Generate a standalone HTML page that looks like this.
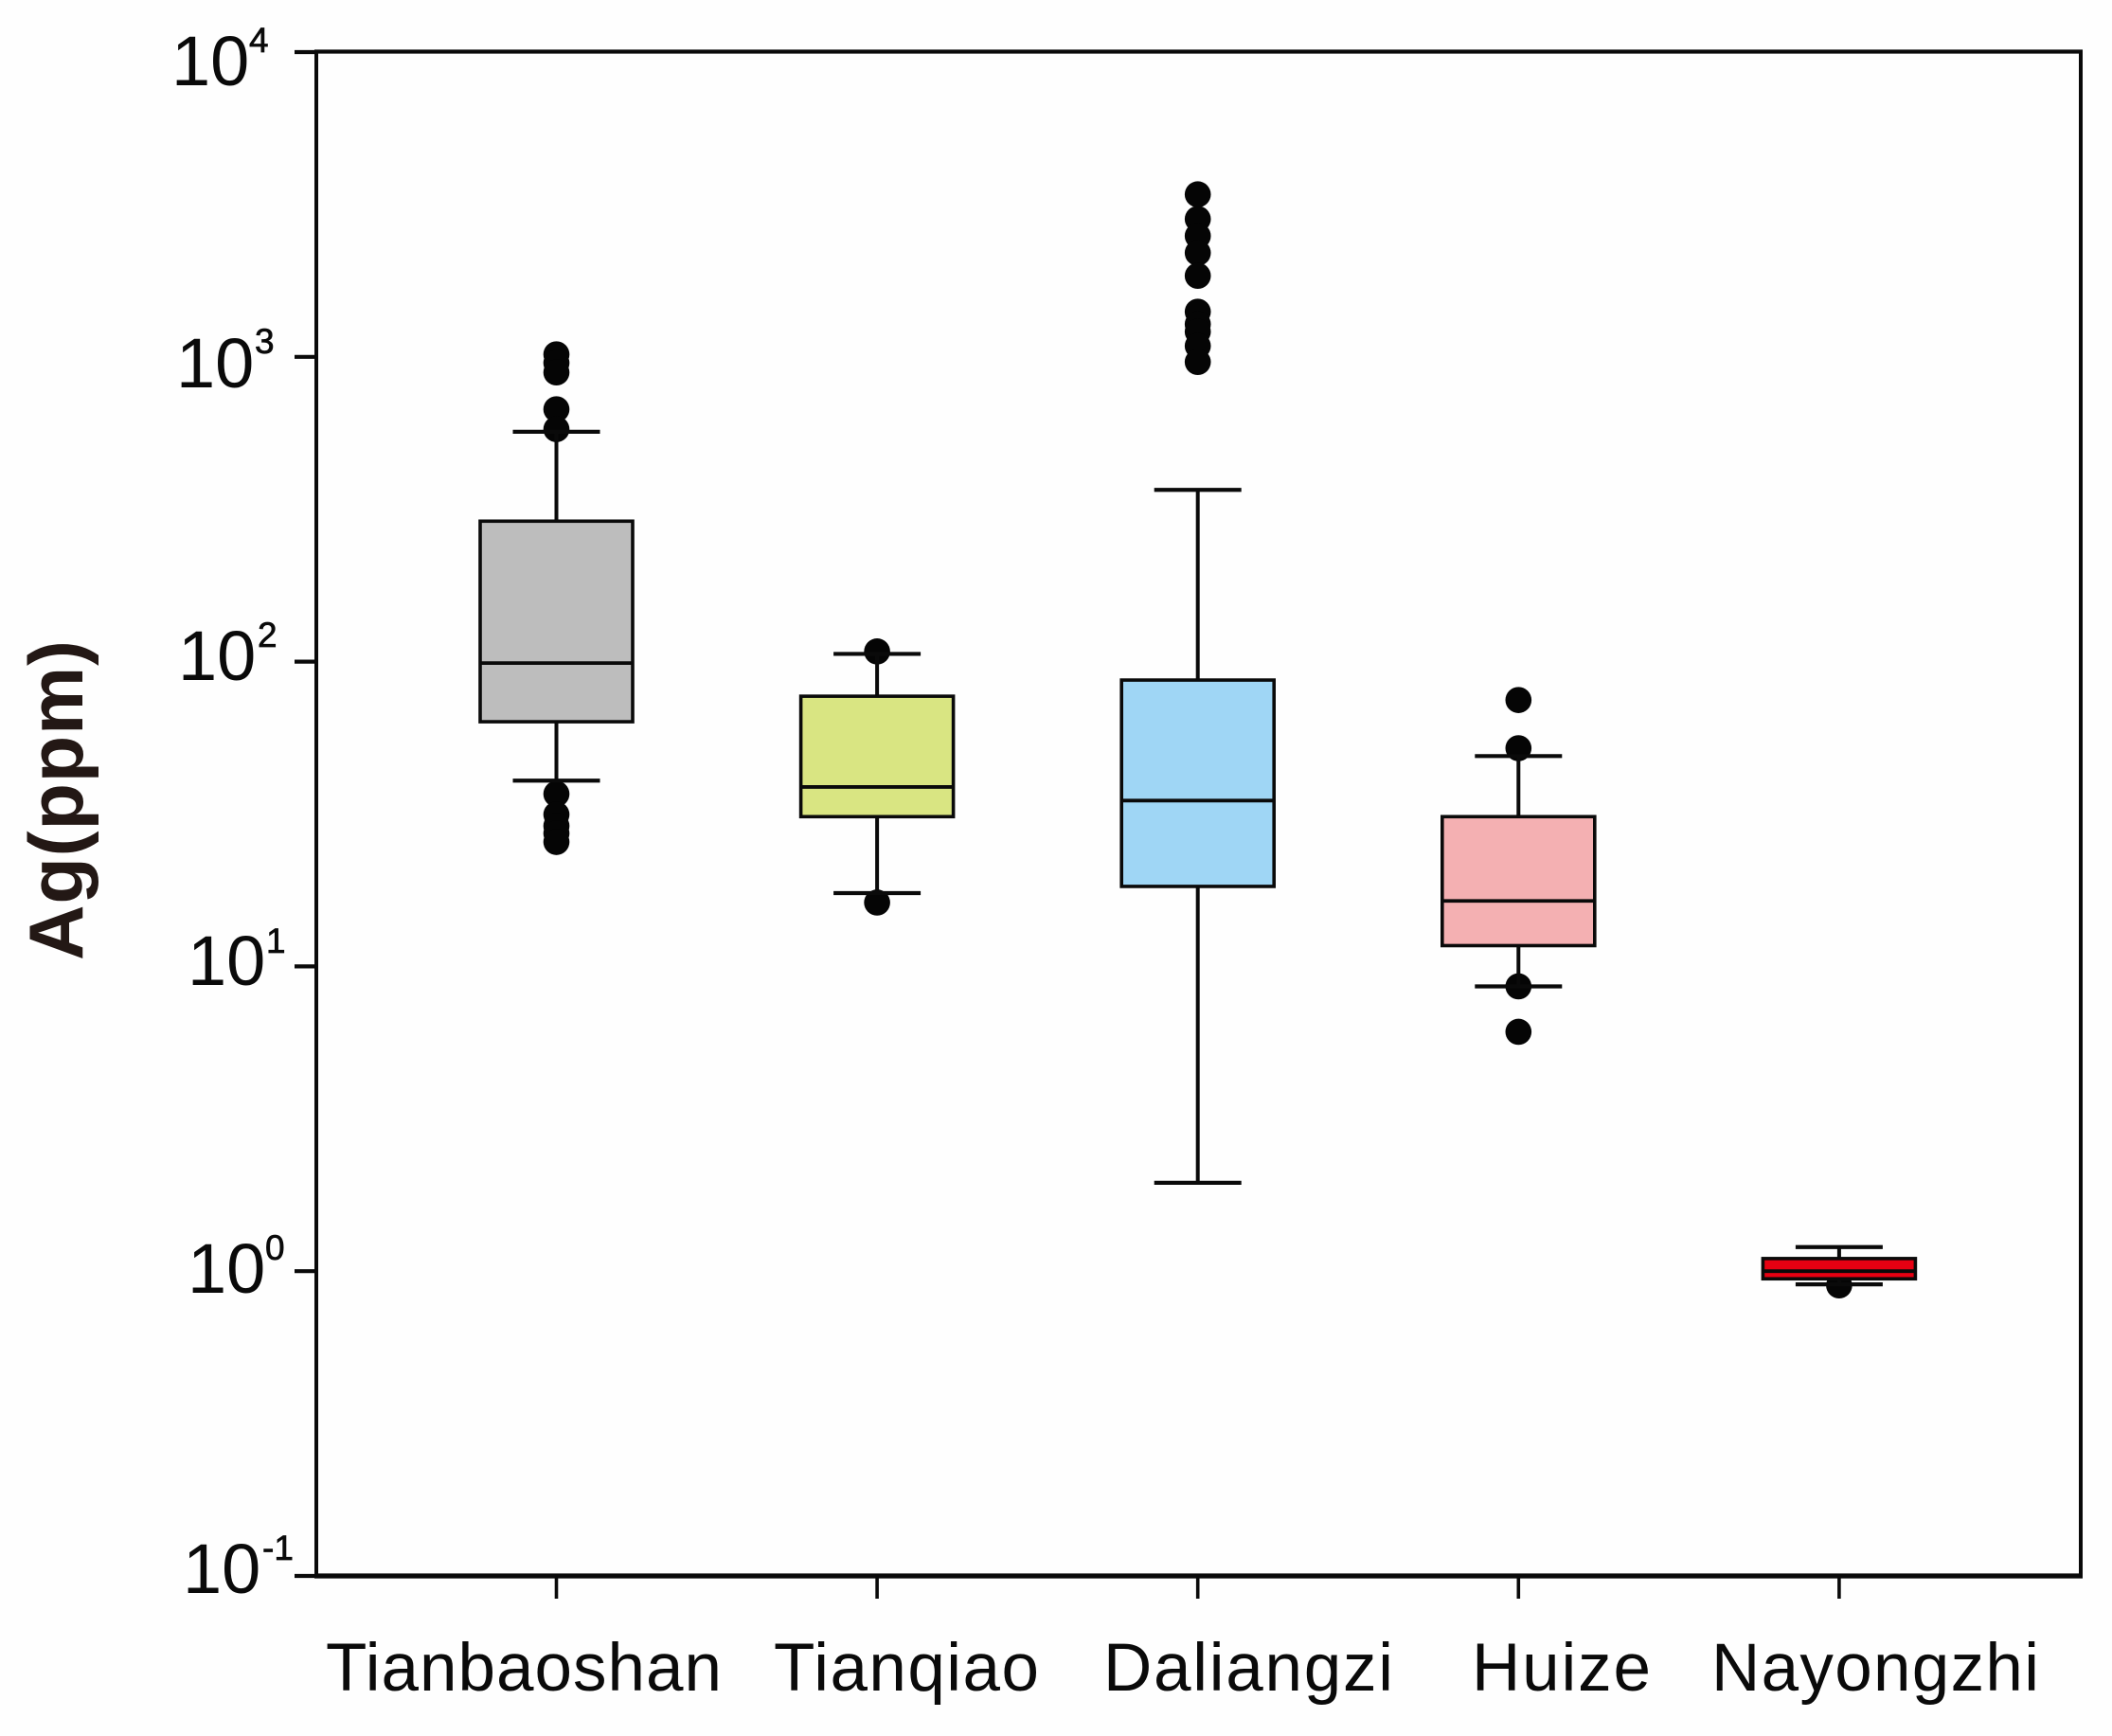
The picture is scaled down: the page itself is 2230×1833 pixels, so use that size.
<!DOCTYPE html>
<html lang="en">
<head>
<meta charset="utf-8">
<title>Ag(ppm) box plot</title>
<style>
  html, body { margin: 0; padding: 0; background: #fefefe; }
  svg { display: block; }
  text { font-family: "Liberation Sans", Arial, sans-serif; fill: #0a0a0a; }
  .sup { stroke: #0a0a0a; stroke-width: 0.7; }
</style>
</head>
<body>
<svg id="chart" xmlns="http://www.w3.org/2000/svg" width="2230" height="1833" viewBox="0 0 2230 1833">
  <rect x="0" y="0" width="2230" height="1833" fill="#fefefe"/>
  <g id="series"></g>
  <g id="axes">
    <line x1="332" y1="54.5" x2="2199" y2="54.5" stroke="#0a0a0a" stroke-width="4.2"/>
    <line x1="2197" y1="53" x2="2197" y2="1666" stroke="#0a0a0a" stroke-width="4"/>
    <line x1="334" y1="53" x2="334" y2="1666" stroke="#0a0a0a" stroke-width="4"/>
    <line x1="332" y1="1664" x2="2199" y2="1664" stroke="#0a0a0a" stroke-width="5.2"/>
  </g>
  <g id="ticks"></g>
  <g>
    <g><text x="181" y="90" font-size="74">10</text><text class="sup" x="263" y="55" font-size="37">4</text></g>
    <g><text x="186" y="409" font-size="74">10</text><text class="sup" x="269" y="373" font-size="37">3</text></g>
    <g><text x="188" y="718" font-size="74">10</text><text class="sup" x="272" y="683" font-size="37">2</text></g>
    <g><text x="198" y="1040" font-size="74">10</text><text class="sup" x="281" y="1006" font-size="37">1</text></g>
    <g><text x="198" y="1365" font-size="74">10</text><text class="sup" x="280" y="1330" font-size="37">0</text></g>
    <g><text x="193" y="1682" font-size="74">10</text><text class="sup" x="277" y="1647" font-size="37">-1</text></g>
  </g>
  <g>
    <text x="344" y="1785" font-size="71" textLength="418" lengthAdjust="spacing">Tianbaoshan</text>
    <text x="817" y="1785" font-size="71" textLength="280" lengthAdjust="spacing">Tianqiao</text>
    <text x="1165" y="1785" font-size="71" textLength="306" lengthAdjust="spacing">Daliangzi</text>
    <text x="1554" y="1785" font-size="71" textLength="189" lengthAdjust="spacing">Huize</text>
    <text x="1807" y="1785" font-size="71" textLength="346" lengthAdjust="spacing">Nayongzhi</text>
  </g>
  <text transform="translate(87,1014) rotate(-90)" x="0" y="0" font-size="81" font-weight="bold" style="fill:#231815" textLength="338" lengthAdjust="spacing">Ag(ppm)</text>
</svg>
<script>
// Data (Ag in ppm)
var categories = ["Tianbaoshan", "Tianqiao", "Daliangzi", "Huize", "Nayongzhi"];
var whiskerHigh = [568, 106, 366, 49, 1.20];
var q3 = [289, 77, 87, 31, 1.10];
var median = [98.9, 38.8, 35, 16.4, 1.0];
var q1 = [63.5, 31, 18.3, 11.7, 0.944];
var whiskerLow = [40.7, 17.4, 1.95, 8.6, 0.905];
var outliersTianbaoshan = [1019, 955, 889, 673, 579, 36.8, 31.5, 28.9, 27.3, 25.6];
var outliersTianqiao = [108, 16.2];
var outliersDaliangzi = [3413, 2833, 2494, 2193, 1845, 1406, 1280, 1209, 1086, 962];
var outliersHuize = [74.8, 52, 8.6, 6.1];
var outliersNayongzhi = [0.898];
var fills = ["#bdbdbd", "#d9e582", "#9fd6f5", "#f4b0b2", "#e60012"];
var yTickExponents = [4, 3, 2, 1, 0, -1];

var outliers = [outliersTianbaoshan, outliersTianqiao, outliersDaliangzi, outliersHuize, outliersNayongzhi];

var INK = "#0a0a0a";
var NS = "http://www.w3.org/2000/svg";

// Axis functions
function yScale(v) {
  return 1664 - (Math.log10(v) + 1) * 321.8;
}
function xScale(i) {
  return 587.5 + i * 338.6;
}

function mk(parent, tag, attrs) {
  var el = document.createElementNS(NS, tag);
  for (var k in attrs) { el.setAttribute(k, attrs[k]); }
  parent.appendChild(el);
  return el;
}

var seriesLayer = document.getElementById("series");
var tickLayer = document.getElementById("ticks");

categories.forEach(function (name, i) {
  var slug = name.toLowerCase();
  var cx = xScale(i);
  var halfBox = 80.5;
  var halfCap = 46;

  var group = mk(seriesLayer, "g", {});
  
  

  outliers[i].forEach(function (v) {
    var dot = mk(group, "circle", { cx: cx, cy: yScale(v), r: 13.8, fill: "#050505" });
    
    
  });

  var stem = mk(group, "line", { x1: cx, x2: cx, y1: yScale(whiskerHigh[i]), y2: yScale(whiskerLow[i]), stroke: INK, "stroke-width": 4 });
  
  

  var capHigh = mk(group, "line", { x1: cx - halfCap, x2: cx + halfCap, y1: yScale(whiskerHigh[i]), y2: yScale(whiskerHigh[i]), stroke: INK, "stroke-width": 4.2 });
  
  

  var capLow = mk(group, "line", { x1: cx - halfCap, x2: cx + halfCap, y1: yScale(whiskerLow[i]), y2: yScale(whiskerLow[i]), stroke: INK, "stroke-width": 4.2 });
  
  

  var box = mk(group, "rect", { x: cx - halfBox, width: halfBox * 2, y: yScale(q3[i]), height: yScale(q1[i]) - yScale(q3[i]), fill: fills[i], stroke: INK, "stroke-width": 3.6 });
  
  

  var med = mk(group, "line", { x1: cx - halfBox, x2: cx + halfBox, y1: yScale(median[i]), y2: yScale(median[i]), stroke: INK, "stroke-width": 3.8 });
  
  

  var xTick = mk(tickLayer, "line", { x1: cx, x2: cx, y1: 1664, y2: 1688, stroke: INK, "stroke-width": 3.6 });
  
  
});

yTickExponents.forEach(function (e) {
  var y = yScale(Math.pow(10, e));
  var yTick = mk(tickLayer, "line", { x1: 311, x2: 334, y1: y, y2: y, stroke: INK, "stroke-width": 4.2 });
  
  
});
</script>
</body>
</html>
